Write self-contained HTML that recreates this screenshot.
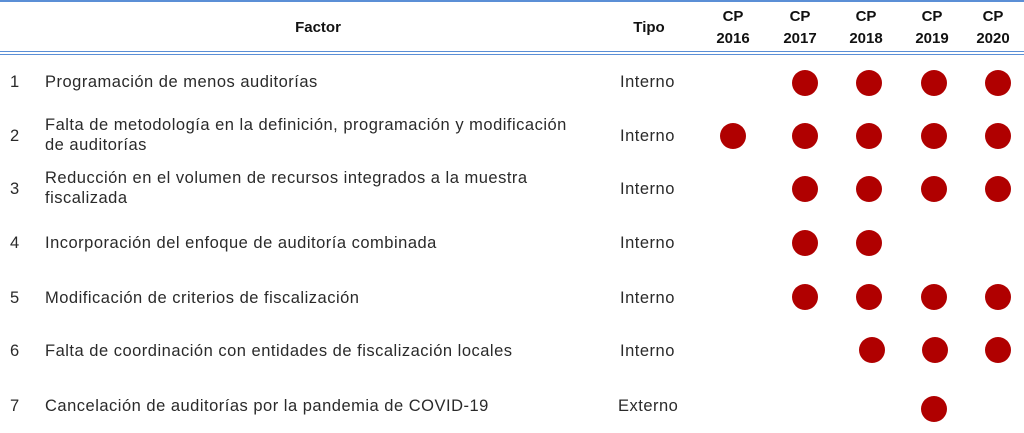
<!DOCTYPE html>
<html><head><meta charset="utf-8"><style>
body{margin:0;width:1024px;height:433px;background:#fff;position:relative;overflow:hidden;font-family:"Liberation Sans",sans-serif;color:#2a2a2a}
.t{position:absolute;font-size:16.5px;letter-spacing:0.5px;line-height:20px;white-space:nowrap}
.h{position:absolute;font-size:15px;font-weight:bold;line-height:22px;text-align:center;color:#111}
.d{position:absolute;width:26px;height:26px;border-radius:50%;background:#b00000}
.l{position:absolute;left:0;width:1024px;height:2px;background:#5b8fd6}
</style></head><body>
<div class="l" style="top:0"></div>
<div class="l" style="top:51px;height:1px"></div>
<div class="l" style="top:54px;height:1px"></div>
<div class="h" style="left:268px;top:17px;width:100px">Factor</div>
<div class="h" style="left:619px;top:17px;width:60px">Tipo</div>
<div class="h" style="left:703px;top:6px;width:60px">CP<br>2016</div>
<div class="h" style="left:770px;top:6px;width:60px">CP<br>2017</div>
<div class="h" style="left:836px;top:6px;width:60px">CP<br>2018</div>
<div class="h" style="left:902px;top:6px;width:60px">CP<br>2019</div>
<div class="h" style="left:963px;top:6px;width:60px">CP<br>2020</div>

<div class="t" style="left:10px;top:72px">1</div><div class="t" style="left:45px;top:72px">Programación de menos auditorías</div><div class="t" style="left:620px;top:72px">Interno</div>
<div class="t" style="left:10px;top:126px">2</div><div class="t" style="left:45px;top:115px">Falta de metodología en la definición, programación y modificación<br>de auditorías</div><div class="t" style="left:620px;top:126px">Interno</div>
<div class="t" style="left:10px;top:179px">3</div><div class="t" style="left:45px;top:168px">Reducción en el volumen de recursos integrados a la muestra<br>fiscalizada</div><div class="t" style="left:620px;top:179px">Interno</div>
<div class="t" style="left:10px;top:233px">4</div><div class="t" style="left:45px;top:233px">Incorporación del enfoque de auditoría combinada</div><div class="t" style="left:620px;top:233px">Interno</div>
<div class="t" style="left:10px;top:288px">5</div><div class="t" style="left:45px;top:288px">Modificación de criterios de fiscalización</div><div class="t" style="left:620px;top:288px">Interno</div>
<div class="t" style="left:10px;top:341px">6</div><div class="t" style="left:45px;top:341px">Falta de coordinación con entidades de fiscalización locales</div><div class="t" style="left:620px;top:341px">Interno</div>
<div class="t" style="left:10px;top:396px">7</div><div class="t" style="left:45px;top:396px">Cancelación de auditorías por la pandemia de COVID-19</div><div class="t" style="left:618px;top:396px">Externo</div>

<div class="d" style="left:792px;top:70px"></div><div class="d" style="left:856px;top:70px"></div><div class="d" style="left:921px;top:70px"></div><div class="d" style="left:985px;top:70px"></div>
<div class="d" style="left:720px;top:123px"></div><div class="d" style="left:792px;top:123px"></div><div class="d" style="left:856px;top:123px"></div><div class="d" style="left:921px;top:123px"></div><div class="d" style="left:985px;top:123px"></div>
<div class="d" style="left:792px;top:176px"></div><div class="d" style="left:856px;top:176px"></div><div class="d" style="left:921px;top:176px"></div><div class="d" style="left:985px;top:176px"></div>
<div class="d" style="left:792px;top:230px"></div><div class="d" style="left:856px;top:230px"></div>
<div class="d" style="left:792px;top:284px"></div><div class="d" style="left:856px;top:284px"></div><div class="d" style="left:921px;top:284px"></div><div class="d" style="left:985px;top:284px"></div>
<div class="d" style="left:859px;top:337px"></div><div class="d" style="left:922px;top:337px"></div><div class="d" style="left:985px;top:337px"></div>
<div class="d" style="left:921px;top:396px"></div>
</body></html>
